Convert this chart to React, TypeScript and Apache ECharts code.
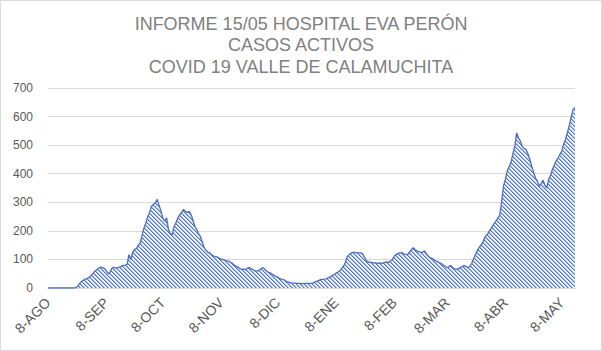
import React, { useEffect, useRef } from 'react';
import * as echarts from 'echarts';

const monthNames = ['ENE', 'FEB', 'MAR', 'ABR', 'MAY', 'JUN', 'JUL', 'AGO', 'SEP', 'OCT', 'NOV', 'DIC'];
const startDate = Date.UTC(2020, 7, 8);
const endDate = Date.UTC(2021, 4, 15);
const tickLabels = ['8-AGO', '8-SEP', '8-OCT', '8-NOV', '8-DIC', '8-ENE', '8-FEB', '8-MAR', '8-ABR', '8-MAY'];
const titleLines = ['INFORME 15/05 HOSPITAL EVA PERÓN', 'CASOS ACTIVOS', 'COVID 19 VALLE DE CALAMUCHITA'];

const activeCases = [
  0, 0, 0, 0, 0, 0, 0, 0, 0, 0,
  0, 0, 0, 0, 0, 2, 8, 18, 24, 28,
  32, 34, 38, 45, 52, 59, 65, 70, 73, 71,
  68, 60, 50, 55, 70, 72, 70, 71, 73, 76,
  79, 80, 82, 117, 100, 125, 135, 138, 150, 158,
  185, 210, 228, 250, 264, 286, 292, 298, 310, 290,
  270, 245, 234, 246, 205, 190, 187, 215, 229, 245,
  257, 265, 275, 268, 265, 268, 257, 238, 216, 205,
  190, 180, 160, 141, 132, 125, 123, 116, 112, 110,
  108, 104, 100, 100, 97, 95, 94, 90, 86, 80,
  76, 72, 68, 65, 66, 64, 70, 72, 67, 64,
  60, 59, 62, 66, 72, 67, 60, 55, 53, 49,
  45, 41, 38, 34, 31, 30, 26, 22, 20, 18,
  17, 17, 16, 16, 16, 15, 15, 16, 16, 16,
  16, 18, 22, 24, 27, 30, 30, 31, 33, 36,
  39, 44, 47, 52, 55, 60, 68, 76, 90, 110,
  117, 122, 125, 125, 124, 123, 123, 121, 110, 96,
  92, 90, 90, 88, 88, 86, 88, 86, 88, 90,
  91, 90, 94, 100, 112, 118, 121, 123, 123, 120,
  118, 117, 125, 133, 141, 135, 129, 127, 125, 125,
  130, 120, 112, 106, 104, 100, 94, 92, 88, 86,
  80, 76, 71, 75, 79, 72, 67, 65, 68, 71,
  75, 79, 76, 72, 74, 85, 100, 115, 130, 141,
  150, 160, 176, 185, 193, 205, 215, 225, 234, 245,
  255, 300, 356, 380, 410, 425, 440, 470, 495, 543,
  525, 514, 495, 488, 485, 470, 450, 426, 405, 385,
  375, 356, 365, 378, 360, 350, 380, 395, 415, 430,
  445, 455, 468, 479, 505, 520, 545, 570, 600, 625,
  632,
];

function buildDates(): string[] {
  const out: string[] = [];
  for (let t = startDate; t <= endDate; t += 86400000) {
    const d = new Date(t);
    out.push(d.getUTCDate() + '-' + monthNames[d.getUTCMonth()]);
  }
  return out;
}

function makeHatch(): HTMLCanvasElement {
  const n = 4;
  const c = document.createElement('canvas');
  c.width = n;
  c.height = n;
  const ctx = c.getContext('2d')!;
  ctx.fillStyle = '#eef2fa';
  ctx.fillRect(0, 0, n, n);
  for (let i = 0; i < n; i++) {
    ctx.fillStyle = '#5578c2';
    ctx.fillRect(i, i, 1, 1);
    ctx.fillStyle = '#a3b6e0';
    ctx.fillRect((i + 1) % n, i, 1, 1);
  }
  return c;
}

export default function App() {
  const ref = useRef<HTMLDivElement>(null);
  useEffect(() => {
    if (!ref.current) return;
    const chart = echarts.init(ref.current, undefined, { renderer: 'svg' });
    const dates = buildDates();
    chart.setOption({
      animation: false,
      backgroundColor: '#ffffff',
      title: {
        text: titleLines.join('\n'),
        left: 'center',
        top: 8,
        textStyle: {
          fontFamily: '"Liberation Sans", Arial, sans-serif',
          fontSize: 18,
          fontWeight: 'normal',
          color: '#808080',
          lineHeight: 21.5,
        },
      },
      graphic: [
        {
          type: 'rect',
          shape: { x: 0.5, y: 0.5, width: 601, height: 350 },
          style: { fill: 'none', stroke: '#d9d9d9', lineWidth: 1 },
          silent: true,
        },
      ],
      grid: { left: 48, right: 27, top: 88, bottom: 63 },
      xAxis: {
        type: 'category',
        data: dates,
        boundaryGap: false,
        axisLine: { lineStyle: { color: '#d9d9d9' } },
        axisTick: { show: false },
        axisLabel: {
          interval: (index: number, value: string) => tickLabels.includes(value),
          rotate: 45,
          margin: 12,
          color: '#595959',
          fontSize: 14,
          fontFamily: '"Liberation Sans", Arial, sans-serif',
        },
        splitLine: { show: false },
      },
      yAxis: {
        type: 'value',
        min: 0,
        max: 700,
        interval: 100,
        axisLine: { show: false },
        axisTick: { show: false },
        axisLabel: {
          color: '#595959',
          fontSize: 12,
          margin: 15,
          fontFamily: '"Liberation Sans", Arial, sans-serif',
        },
        splitLine: { lineStyle: { color: '#d9d9d9' } },
      },
      series: [
        {
          type: 'line',
          data: activeCases,
          showSymbol: false,
          symbol: 'none',
          lineStyle: { color: '#4a6fbd', width: 1.3 },
          areaStyle: {
            color: { image: makeHatch(), repeat: 'repeat' },
            opacity: 1,
          },
        },
      ],
    });
    return () => chart.dispose();
  }, []);
  return (
    <div
      ref={ref}
      style={{ position: 'fixed', left: 0, top: 0, width: 602, height: 351 }}
    />
  );
}
